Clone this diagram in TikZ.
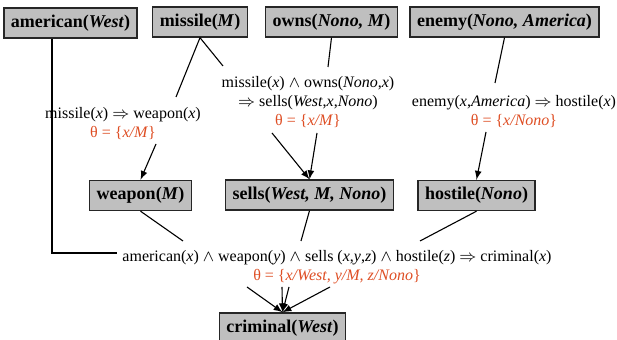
\documentclass[tikz,border=0pt]{standalone}
\usepackage{fontspec}
\setmainfont{Liberation Serif}
\definecolor{thetared}{RGB}{222,78,36}
\begin{document}
\begin{tikzpicture}[x=0.5pt,y=-0.5pt,line width=0.55pt,
        fact/.style={draw=black!85,fill=black!25,line width=0.7pt,minimum height=15pt,inner xsep=3.5pt,font=\fontsize{9}{11}\selectfont\bfseries},
        rule/.style={align=center,font=\fontsize{8}{9.5}\selectfont}]
        \useasboundingbox (0,0) rectangle (617,340);

        % facts
        \node[fact] (amer) at (70.5,23) {american(\textit{West})};
        \node[fact] (missile) at (200,22) {missile(\textit{M})};
        \node[fact] (owns) at (331.5,22) {owns(\textit{Nono, M})};
        \node[fact] (enemy) at (504.5,22) {enemy(\textit{Nono, America})};
        \node[fact] (weapon) at (140.5,195.5) {weapon(\textit{M})};
        \node[fact] (sells) at (309.5,195) {sells(\textit{West, M, Nono})};
        \node[fact] (hostile) at (476.5,195.5) {hostile(\textit{Nono})};
        \node[fact] (crim) at (282.5,328) {criminal(\textit{West})};

        % rules
        \node[rule] (r1) at (123,123.5) {missile(\textit{x}) $\Rightarrow$ weapon(\textit{x})\\
            \textcolor{thetared}{θ = \{\textit{x/M}\}}};
        \node[rule] (r2) at (308,102.5) {missile(\textit{x}) $\wedge$ owns(\textit{Nono},\textit{x})\\
            $\Rightarrow$ sells(\textit{West},\textit{x},\textit{Nono})\\
            \textcolor{thetared}{θ = \{\textit{x/M}\}}};
        \node[rule] (r3) at (514,112) {enemy(\textit{x},\textit{America}) $\Rightarrow$ hostile(\textit{x})\\
            \textcolor{thetared}{θ = \{\textit{x/Nono}\}}};
        \node[rule] (r4) at (337,267) {american(\textit{x}) $\wedge$ weapon(\textit{y}) $\wedge$ sells (\textit{x},\textit{y},\textit{z}) $\wedge$ hostile(\textit{z}) $\Rightarrow$ criminal(\textit{x})\\
            \textcolor{thetared}{θ = \{\textit{x/West, y/M, z/Nono}\}}};

        % ends of the premise lines
        \coordinate (r1a) at (176,97);
        \coordinate (r2a) at (223,66);
        \coordinate (r2b) at (328,67);
        \coordinate (r3a) at (495,83);
        \coordinate (r4a) at (117,253);
        \coordinate (r4b) at (183,241);
        \coordinate (r4c) at (301,241);
        \coordinate (r4d) at (420,241);
        % starts of the conclusion arrows
        \coordinate (r1o) at (156,144);
        \coordinate (r2o) at (272,133);
        \coordinate (r2p) at (317,133);
        \coordinate (r3o) at (486,132);
        \coordinate (r4o) at (247,287);
        \coordinate (r4p) at (282,287);
        \coordinate (r4q) at (289,287);
        \coordinate (r4r) at (330,287);

        \draw ([xshift=-9.25pt]amer.south) |- (r4a);
        \foreach \from / \to in {missile/r1a,missile/r2a,owns/r2b,enemy/r3a,weapon/r4b,sells/r4c,hostile/r4d}
            \draw (\from.south) -- (\to);

        \foreach \from / \to in {r1o/weapon,r2o/sells,r2p/sells,r3o/hostile,r4o/crim,r4p/crim,r4q/crim,r4r/crim}
            \draw[-latex] (\from) -- (\to.north);
\end{tikzpicture}
\end{document}
